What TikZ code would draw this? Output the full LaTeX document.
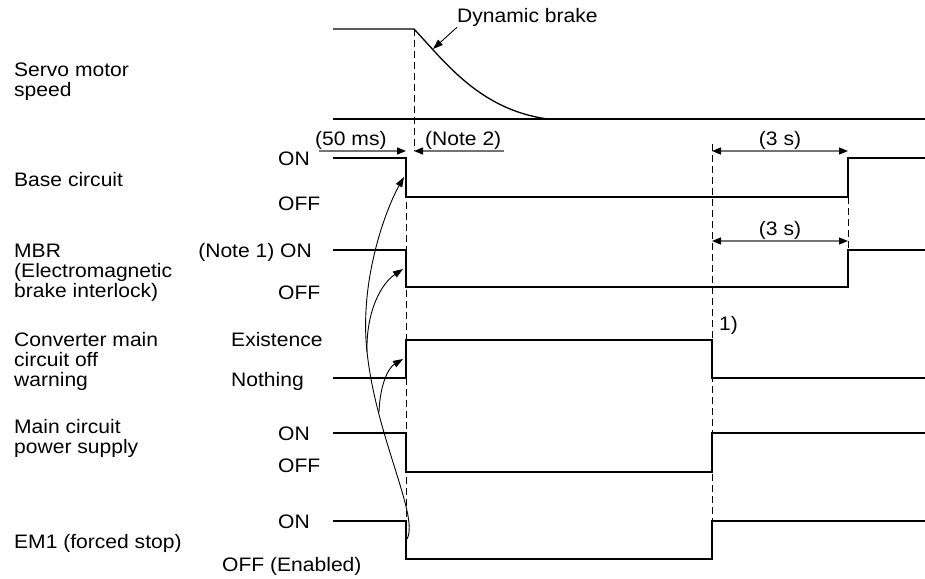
\documentclass[tikz,border=0pt]{standalone}
\usepackage{fontspec}
\setmainfont{Liberation Sans}[FakeStretch=1.08]
\usetikzlibrary{arrows.meta}
\begin{document}
\begin{tikzpicture}[x=1pt,y=-1pt,
  sig/.style={line width=1.3pt, line join=miter, line cap=butt},
  dashv/.style={line width=0.9pt, dash pattern=on 7pt off 4pt},
  lbl/.style={font=\fontsize{19.5}{20}\selectfont, inner sep=0pt, anchor=base west},
  lblc/.style={font=\fontsize{19.5}{20}\selectfont, inner sep=0pt, anchor=base},
  dimline/.style={draw=black!55, line width=1.3pt},
  headtip/.style={-{Triangle[length=9pt,width=7pt,color=black]}},
  curv/.style={line width=0.9pt, -{Triangle[length=10pt,width=7pt]}},
]
\useasboundingbox (0,0) rectangle (925,578);

% ---------- left labels ----------
\node[lbl] (l1a) at (14,76) {Servo motor};
\node[lbl] (l1b) at (14,96) {speed};
\node[lbl] (l2) at (14,186) {Base circuit};
\node[lbl] (l3a) at (14,257) {MBR};
\node[lbl] (l3b) at (14,277) {(Electromagnetic};
\node[lbl] (l3c) at (14,297) {brake interlock)};
\node[lbl] (l4a) at (14,346) {Converter main};
\node[lbl] (l4b) at (14,366) {circuit off};
\node[lbl] (l4c) at (14,386) {warning};
\node[lbl] (l5a) at (14,433) {Main circuit};
\node[lbl] (l5b) at (14,453) {power supply};
\node[lbl] (l6) at (14,548) {EM1 (forced stop)};

% ---------- level labels ----------
\node[lbl] (bcon) at (278,165) {ON};
\node[lbl] (bcoff) at (278,210) {OFF};
\node[lbl, anchor=base east] (mbron) at (312,257) {(Note 1) ON};
\node[lbl] (mbroff) at (278,299) {OFF};
\node[lbl] (cvex) at (231,346) {Existence};
\node[lbl] (cvno) at (231,386) {Nothing};
\node[lbl] (mpon) at (278,440) {ON};
\node[lbl] (mpoff) at (278,472) {OFF};
\node[lbl] (emon) at (278,528) {ON};
\node[lbl] (emoff) at (222,571) {OFF (Enabled)};

% ---------- annotations ----------
\node[lbl] (dyn) at (457,23) {Dynamic brake};
\node[lbl] (t50) at (315,145) {(50 ms)};
\node[lbl] (n2) at (425,145) {(Note 2)};
\node[lblc] (t3a) at (780,145) {(3 s)};
\node[lblc] (t3b) at (780,235) {(3 s)};
\node[lbl] (one) at (719,330) {1)};

% ---------- dashed time markers ----------
\draw[dashv] (414,29) -- (414,151);
\draw[dashv] (406,158) -- (406,559);
\draw[dashv] (712,144) -- (712,559);
\draw[dashv] (848,197) -- (848,250);

% ---------- servo motor speed ----------
\coordinate (sp0) at (333,29);
\coordinate (sp1) at (414,29);
\coordinate (sp2) at (548,119);
\draw[sig] (sp0) -- (sp1) .. controls (445,62) and (480,110) .. (sp2);
\draw[sig] (333,119) -- (925,119);
\coordinate (dbpt) at (433,49);
\draw[line width=0.9pt, -{Triangle[length=10pt,width=7pt]}] (dyn.south west) -- (dbpt);

% ---------- signals ----------
\draw[sig] (333,158) -- (406,158) -- (406,197) -- (848,197) -- (848,158) -- (925,158);
\draw[sig] (333,250) -- (406,250) -- (406,287) -- (848,287) -- (848,250) -- (925,250);
\draw[sig] (333,378) -- (406,378) -- (406,340) -- (712,340) -- (712,378) -- (925,378);
\draw[sig] (333,433) -- (406,433) -- (406,472) -- (712,472) -- (712,433) -- (925,433);
\draw[sig] (333,521) -- (406,521) -- (406,559) -- (712,559) -- (712,521) -- (925,521);

% ---------- dimension arrows ----------
\coordinate (d50a) at (319,151);
\coordinate (d50b) at (406,151);
\coordinate (dn2a) at (504,151);
\coordinate (dn2b) at (414,151);
\draw[dimline, headtip] (d50a) -- (d50b);
\draw[dimline, headtip] (dn2a) -- (dn2b);
\coordinate (d3a1) at (712,151);
\coordinate (d3a2) at (848,151);
\coordinate (d3b1) at (712,241);
\coordinate (d3b2) at (848,241);
\draw[dimline, {Triangle[length=9pt,width=7pt,color=black]}-{Triangle[length=9pt,width=7pt,color=black]}] (d3a1) -- (d3a2);
\draw[dimline, {Triangle[length=9pt,width=7pt,color=black]}-{Triangle[length=9pt,width=7pt,color=black]}] (d3b1) -- (d3b2);

% ---------- causal curved arrows ----------
\coordinate (emE) at (407,539);
\coordinate (j1) at (366,340);
\coordinate (bcE) at (404,177);
\coordinate (j2) at (367,352);
\coordinate (mbrE) at (403,269);
\coordinate (j3) at (379,412);
\coordinate (cvE) at (403,359);
\draw[curv] (emE) .. controls (420,515) and (372,430) .. (j1) .. controls (362,270) and (388,205) .. (bcE);
\draw[curv] (j2) .. controls (366,310) and (382,283) .. (mbrE);
\draw[curv] (j3) .. controls (380,385) and (388,368) .. (cvE);
\end{tikzpicture}
\end{document}
